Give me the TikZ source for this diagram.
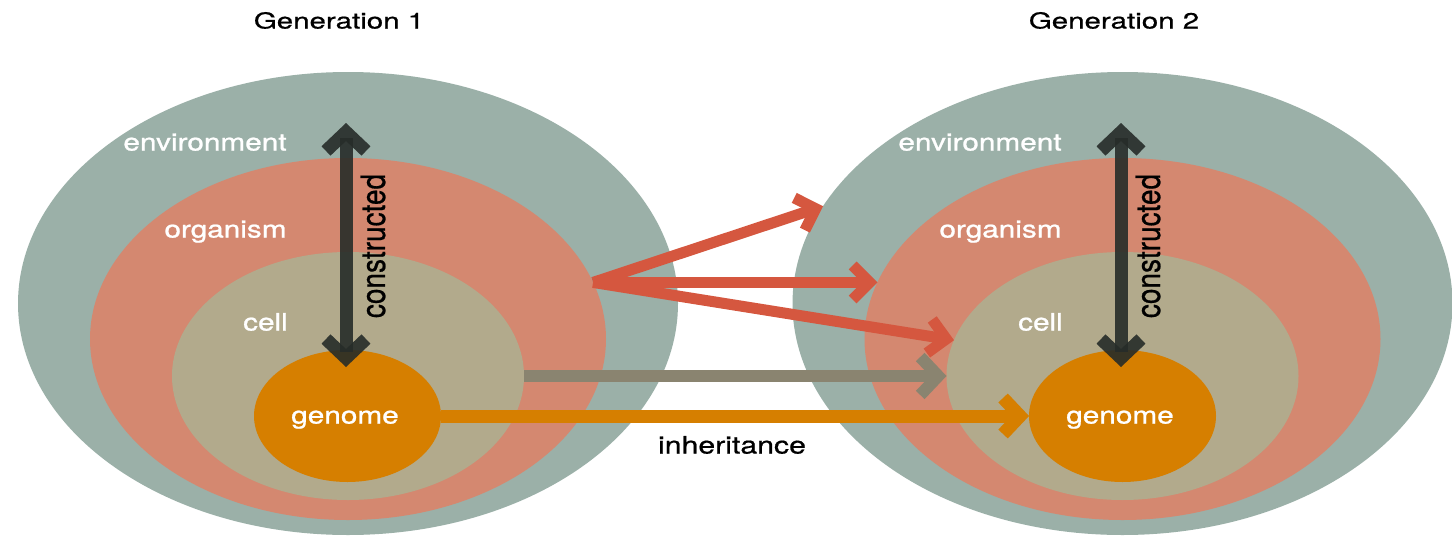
\documentclass[tikz,border=0pt]{standalone}
\usepackage{fontspec}
\setmainfont{TeX Gyre Heros}
\newfontfamily\labfont[FakeBold=0.9]{TeX Gyre Heros}
\newfontfamily\ttlfont[FakeBold=0.6]{TeX Gyre Heros}
\usetikzlibrary{arrows.meta,shapes.geometric}
\definecolor{envc}{RGB}{155,176,168}
\definecolor{orgc}{RGB}{212,136,112}
\definecolor{cellc}{RGB}{178,170,140}
\definecolor{genc}{RGB}{214,127,0}
\definecolor{redc}{RGB}{213,87,63}
\definecolor{grayc}{RGB}{138,132,112}
\definecolor{darkc}{RGB}{38,44,41}
\newcommand{\widetxt}[2]{\scalebox{#1}[1]{#2}}
\begin{document}
\begin{tikzpicture}[x=1pt,y=-1pt,
  blob/.style={ellipse, inner sep=0pt, outer sep=0pt},
  envblob/.style={blob, fill=envc, minimum width=660pt, minimum height=463pt},
  orgblob/.style={blob, fill=orgc, minimum width=516pt, minimum height=362pt},
  cellblob/.style={blob, fill=cellc, minimum width=352pt, minimum height=248pt},
  genblob/.style={blob, fill=genc, minimum width=187pt, minimum height=132pt},
  lab/.style={text=white, font=\labfont\fontsize{24}{26}\selectfont, anchor=base, inner sep=0pt},
  ttl/.style={text=black, font=\ttlfont\fontsize{22}{24}\selectfont, anchor=base, inner sep=0pt},
  conslab/.style={text=black, font=\ttlfont\fontsize{28}{30}\selectfont, rotate=90, inner sep=0pt},
  consarrow/.style={line width=13pt, draw=darkc, draw opacity=0.9, line join=miter,
    {Straight Barb[length=19pt,width=40pt]}-{Straight Barb[length=19pt,width=40pt]}},
  redarrow/.style={line width=11pt, draw=redc, line join=miter,
    -{Straight Barb[length=17pt,width=34pt]}},
  grayarrow/.style={line width=12pt, draw=grayc, line join=miter,
    -{Straight Barb[length=18pt,width=38pt]}},
  orangearrow/.style={line width=13pt, draw=genc, line join=miter,
    -{Straight Barb[length=17pt,width=36pt]}}
]
\useasboundingbox (0,0) rectangle (1452,536);
\fill[white] (0,0) rectangle (1452,536);

% Generation 1
\node[envblob]  (envA)  at (348,303.5) {};
\node[orgblob]  (orgA)  at (348,339) {};
\node[cellblob] (cellA) at (348,376) {};
\node[genblob]  (genA)  at (347.5,416) {};
% Generation 2
\node[envblob]  (envB)  at (1122.5,303.5) {};
\node[orgblob]  (orgB)  at (1122.5,339) {};
\node[cellblob] (cellB) at (1122.5,376) {};
\node[genblob]  (genB)  at (1122.5,416) {};

% titles
\node[ttl] (titA) at (339,28.5) {\widetxt{1.34}{Generation 1}};
\node[ttl] (titB) at (1114,28.5) {\widetxt{1.34}{Generation 2}};

% labels
\node[lab] (lenvA)  at (205,150.5) {\widetxt{1.24}{environment}};
\node[lab] (lorgA)  at (225.5,237.5) {\widetxt{1.24}{organism}};
\node[lab] (lcellA) at (265.5,330.5) {\widetxt{1.24}{cell}};
\node[lab] (lgenA)  at (345,423.5) {\widetxt{1.24}{genome}};
\node[lab] (lenvB)  at (980,150.5) {\widetxt{1.24}{environment}};
\node[lab] (lorgB)  at (1000.5,237.5) {\widetxt{1.24}{organism}};
\node[lab] (lcellB) at (1040.5,330.5) {\widetxt{1.24}{cell}};
\node[lab] (lgenB)  at (1120,423.5) {\widetxt{1.24}{genome}};

% constructed arrows
\coordinate (ctA) at (346,123);
\coordinate (cbA) at (346,367);
\coordinate (ctB) at (1121,123);
\coordinate (cbB) at (1121,367);
\draw[consarrow] (ctA) -- (cbA);
\draw[consarrow] (ctB) -- (cbB);
\node[conslab] (consA) at (373,246) {\scalebox{1}[1.2]{constructed}};
\node[conslab] (consB) at (1148,246) {\scalebox{1}[1.2]{constructed}};

% red arrows
\draw[redarrow] (orgA.13.4) -- (envB.162.8);
\draw[redarrow] (orgA.13.4) -- (orgB.167.7);
\draw[redarrow] (orgA.13.4) -- (cellB.168);

% gray and orange arrows
\draw[grayarrow] (cellA.east) -- (cellB.west);
\draw[orangearrow] (genA.east) -- (genB.west);
\node[ttl, font=\ttlfont\fontsize{24}{26}\selectfont] (inh) at (732,453.5) {\widetxt{1.26}{inheritance}};
\end{tikzpicture}
\end{document}
